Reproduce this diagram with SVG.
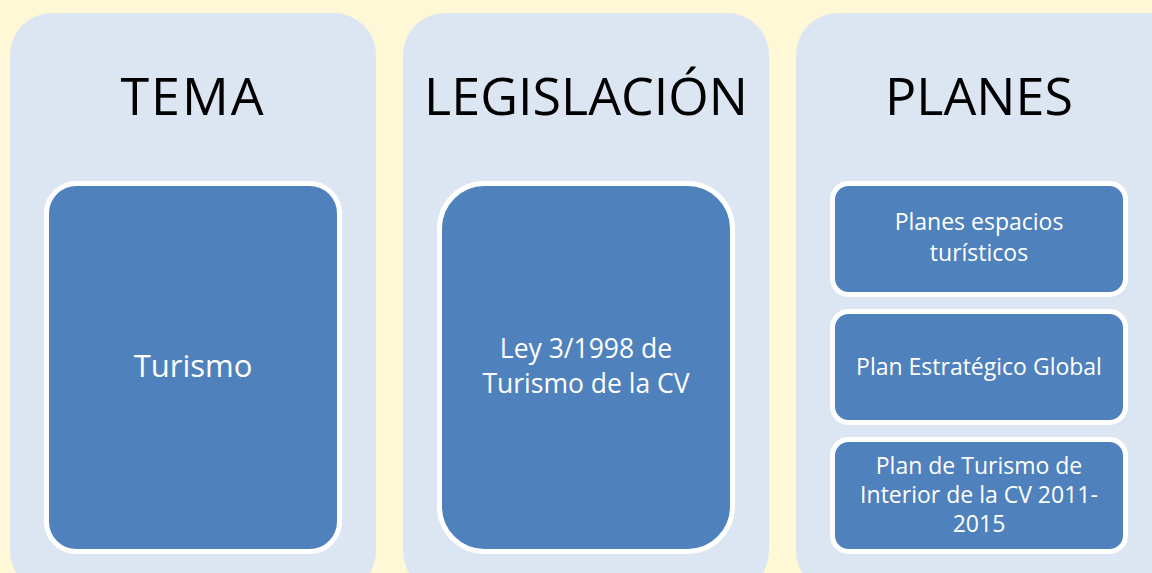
<svg xmlns="http://www.w3.org/2000/svg" width="1152" height="573" viewBox="0 0 1152 573">
<style>
.panel{fill:#DCE6F2}
.box{fill:#4F81BD;stroke:#FFFFFF;stroke-width:5}
.title{font-family:"Open Sans","Noto Sans",sans-serif;font-size:52px;fill:#000000;text-anchor:middle}
.lbl{font-family:"Open Sans","Noto Sans",sans-serif;fill:#FFFFFF;text-anchor:middle}
.sm{font-size:23px}
</style>
<rect x="0" y="0" width="1152" height="573" fill="#FFF8D6"/>
<g id="tema">
<rect class="panel" x="10" y="13" width="366" height="580" rx="42"/>
<text class="title" x="193" y="115" letter-spacing="2">TEMA</text>
<rect class="box" x="46.5" y="183.5" width="293" height="368" rx="30"/>
<text class="lbl" x="193" y="377" font-size="31">Turismo</text>
</g>
<g id="legislacion">
<rect class="panel" x="403" y="13" width="366" height="580" rx="42"/>
<text class="title" x="586" y="115">LEGISLACIÓN</text>
<rect class="box" x="439.5" y="183.5" width="293" height="368" rx="45"/>
<text class="lbl" x="586" y="358" font-size="26.5">Ley 3/1998 de</text>
<text class="lbl" x="586" y="393" font-size="26.5">Turismo de la CV</text>
</g>
<g id="planes">
<rect class="panel" x="796" y="13" width="400" height="580" rx="42"/>
<text class="title" x="979" y="115">PLANES</text>
<rect class="box" x="832.5" y="183.5" width="293" height="111" rx="16"/>
<text class="lbl sm" x="979" y="230">Planes espacios</text>
<text class="lbl sm" x="979" y="261">turísticos</text>
<rect class="box" x="832.5" y="311.5" width="293" height="111" rx="16"/>
<text class="lbl sm" x="979" y="375">Plan Estratégico Global</text>
<rect class="box" x="832.5" y="439.5" width="293" height="112" rx="16"/>
<text class="lbl sm" x="979" y="474">Plan de Turismo de</text>
<text class="lbl sm" x="979" y="503">Interior de la CV 2011-</text>
<text class="lbl sm" x="979" y="532">2015</text>
</g>
<g id="connectors"></g>
</svg>
